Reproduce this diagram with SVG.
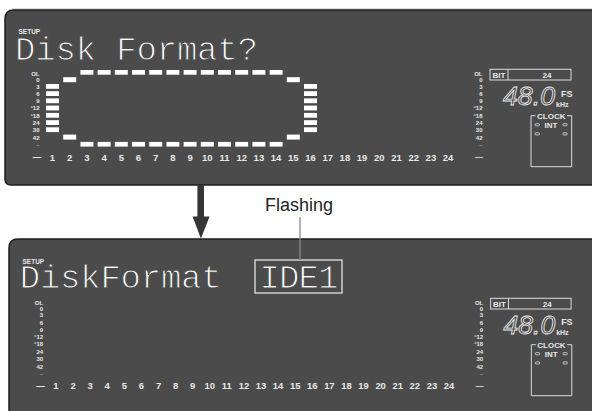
<svg xmlns="http://www.w3.org/2000/svg" xmlns:xlink="http://www.w3.org/1999/xlink" width="592" height="411" viewBox="0 0 592 411">
<style>
.panel{fill:#4b4b4b;stroke:#1e1e1e;stroke-width:1.5}
.lcd{font-family:"Liberation Mono","DejaVu Sans Mono",monospace;font-size:34px;fill:#fff;stroke:#4b4b4b;stroke-width:1.1}
.sm{font-family:"Liberation Sans",Arial,sans-serif;font-weight:bold;fill:#e8e8e8}
.sc{font-size:6px;text-anchor:end}
.num{font-size:9.5px;text-anchor:middle}
.bar{fill:#fff}
.frame{fill:none;stroke:#dcdcdc;stroke-width:1}
.pill{fill:none;stroke:#dcdcdc;stroke-width:0.8}
.lbl{font-family:"Liberation Sans",Arial,sans-serif;font-size:18px;fill:#222;text-anchor:middle}
</style>
<defs>
<g id="scaleL">
<text class="sm sc" y="76.2">OL</text>
<text class="sm sc" y="82.4">0</text>
<text class="sm sc" y="88.5">3</text>
<text class="sm sc" y="95.7">6</text>
<text class="sm sc" y="103">9</text>
<text class="sm sc" y="110.4">°12</text>
<text class="sm sc" y="117.5">°18</text>
<text class="sm sc" y="124.8">24</text>
<text class="sm sc" y="132">30</text>
<text class="sm sc" y="139.7">42</text>
<text class="sm sc" y="147" style="fill:#aaa">–</text>
</g>
<g id="meter">
<use xlink:href="#scaleL" x="39.5"/>
<use xlink:href="#scaleL" x="482.5"/>
<text class="sm num" x="37" y="159.8" style="font-size:8.5px">—</text>
<text class="sm num" x="479" y="158.8" style="font-size:8px">—</text>
<g>
<text class="sm num" x="52.5" y="160.5">1</text>
<text class="sm num" x="69.7" y="160.5">2</text>
<text class="sm num" x="86.9" y="160.5">3</text>
<text class="sm num" x="104.1" y="160.5">4</text>
<text class="sm num" x="121.3" y="160.5">5</text>
<text class="sm num" x="138.5" y="160.5">6</text>
<text class="sm num" x="155.7" y="160.5">7</text>
<text class="sm num" x="172.9" y="160.5">8</text>
<text class="sm num" x="190.1" y="160.5">9</text>
<text class="sm num" x="207.3" y="160.5">10</text>
<text class="sm num" x="224.5" y="160.5">11</text>
<text class="sm num" x="241.7" y="160.5">12</text>
<text class="sm num" x="258.9" y="160.5">13</text>
<text class="sm num" x="276.1" y="160.5">14</text>
<text class="sm num" x="293.3" y="160.5">15</text>
<text class="sm num" x="310.5" y="160.5">16</text>
<text class="sm num" x="327.7" y="160.5">17</text>
<text class="sm num" x="344.9" y="160.5">18</text>
<text class="sm num" x="362.1" y="160.5">19</text>
<text class="sm num" x="379.3" y="160.5">20</text>
<text class="sm num" x="396.5" y="160.5">21</text>
<text class="sm num" x="413.7" y="160.5">22</text>
<text class="sm num" x="430.9" y="160.5">23</text>
<text class="sm num" x="448.1" y="160.5">24</text>
</g>
<rect class="frame" x="490" y="69.3" width="81" height="10.7"/>
<line class="frame" x1="508" y1="69.3" x2="508" y2="80"/>
<text class="sm" x="492.5" y="78" style="font-size:8px">BIT</text>
<text class="sm" x="547" y="77.8" style="font-size:8px;text-anchor:middle">24</text>
<text x="503" y="105" textLength="52" lengthAdjust="spacingAndGlyphs" style="font-family:'Liberation Sans',Arial,sans-serif;font-style:italic;font-size:26px;fill:none;stroke:#f0f0f0;stroke-width:0.8">48.0</text>
<text class="sm" x="561" y="96.5" style="font-size:9px">FS</text>
<text class="sm" x="556" y="106.5" style="font-size:7px">kHz</text>
<path class="frame" d="M535.5,115.7 H531 V166.7 H571.7 V115.7 H567"/>
<text class="sm" x="551.3" y="118.7" style="font-size:8px;text-anchor:middle">CLOCK</text>
<text class="sm" x="551" y="128" style="font-size:8px;text-anchor:middle">INT</text>
<rect class="pill" x="535" y="123.6" width="4.5" height="2.2" rx="1.1"/>
<rect class="pill" x="562.8" y="123.6" width="4.5" height="2.2" rx="1.1"/>
<rect class="pill" x="535" y="132.8" width="4.5" height="2.2" rx="1.1"/>
<rect class="pill" x="562.8" y="132.8" width="4.5" height="2.2" rx="1.1"/>
</g>
<g id="col7">
<rect class="bar" x="0" y="84" width="13" height="4.8"/>
<rect class="bar" x="0" y="91.2" width="13" height="4.8"/>
<rect class="bar" x="0" y="98.4" width="13" height="4.8"/>
<rect class="bar" x="0" y="105.6" width="13" height="4.8"/>
<rect class="bar" x="0" y="112.9" width="13" height="4.8"/>
<rect class="bar" x="0" y="120.2" width="13" height="4.8"/>
<rect class="bar" x="0" y="127.3" width="13" height="4.8"/>
</g>
<g id="col2">
<rect class="bar" x="0" y="77.2" width="13" height="5"/>
<rect class="bar" x="0" y="134.6" width="13" height="5"/>
</g>
<g id="colE">
<rect class="bar" x="0" y="70" width="13" height="4.7"/>
<rect class="bar" x="0" y="141.9" width="13" height="4.7"/>
</g>
</defs>

<rect x="0" y="0" width="592" height="411" fill="#fff"/>

<g id="panel-top">
<line x1="12" y1="8.9" x2="592" y2="8.9" stroke="#b8b8b8" stroke-width="0.8"/>
<path class="panel" d="M5,19 Q5,10 14,10 H600 V185 H11 Q5,185 5,179 Z"/>
<use xlink:href="#meter"/>
<text class="sm" x="18.5" y="33.8" style="font-size:6.5px">SETUP</text>
<text class="lcd" x="15" y="60" textLength="243" lengthAdjust="spacing">Disk Format?</text>
<g id="meter-bars">
<use xlink:href="#col7" x="46"/>
<use xlink:href="#col2" x="63.2"/>
<use xlink:href="#colE" x="80.4"/>
<use xlink:href="#colE" x="97.6"/>
<use xlink:href="#colE" x="114.8"/>
<use xlink:href="#colE" x="132"/>
<use xlink:href="#colE" x="149.2"/>
<use xlink:href="#colE" x="166.4"/>
<use xlink:href="#colE" x="183.6"/>
<use xlink:href="#colE" x="200.8"/>
<use xlink:href="#colE" x="218"/>
<use xlink:href="#colE" x="235.2"/>
<use xlink:href="#colE" x="252.4"/>
<use xlink:href="#colE" x="269.6"/>
<use xlink:href="#col2" x="286.8"/>
<use xlink:href="#col7" x="304"/>
</g>
</g>

<g id="panel-bottom">
<path class="panel" d="M9,248 Q9,239 18,239 H600 V420 H9 Z"/>
<use xlink:href="#meter" transform="matrix(0.9934 0 0 1 3.84 229)"/>
<text class="sm" x="22.5" y="263.8" style="font-size:6.5px">SETUP</text>
<text class="lcd" x="19.7" y="288" textLength="202" lengthAdjust="spacing">DiskFormat</text>
<g id="ide1">
<rect x="255" y="260" width="87" height="33" fill="none" stroke="#cfcfcf" stroke-width="1.5"/>
<text class="lcd" x="259.5" y="288" textLength="79" lengthAdjust="spacing">IDE1</text>
</g>
</g>

<g id="label-flashing">
<text class="lbl" x="299" y="211">Flashing</text>
</g>

<g id="connectors">
<rect x="197.4" y="185" width="6.6" height="33" fill="#353535"/>
<polygon points="192.6,216.5 209.6,216.5 200.9,238.5" fill="#353535"/>
<line x1="300" y1="217" x2="300" y2="260" stroke="#8a8a8a" stroke-width="1.3"/>
</g>
</svg>
